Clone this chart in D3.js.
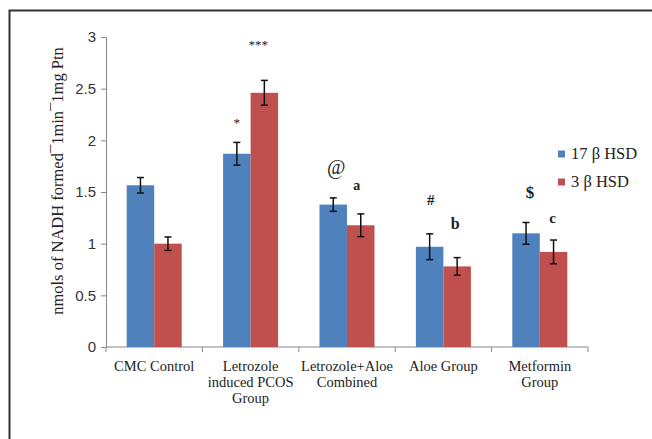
<!DOCTYPE html>
<html>
<head>
<meta charset="utf-8">
<script src="https://cdn.jsdelivr.net/npm/d3@7"></script>
<style>
  body { margin: 0; background: #fff; }
  svg { display: block; }
  .serif { font-family: "Liberation Serif", "Times New Roman", serif; }
  .sans { font-family: "Liberation Sans", Arial, sans-serif; }
</style>
</head>
<body>
<script>
// data
var groups = [["CMC Control"], ["Letrozole", "induced PCOS", "Group"], ["Letrozole+Aloe", "Combined"], ["Aloe Group"], ["Metformin", "Group"]];
var seriesNames = ["17 \u03b2 HSD", "3 \u03b2 HSD"];
var hsd17 = [1.565, 1.87, 1.378, 0.97, 1.10];
var hsd17Err = [0.075, 0.11, 0.065, 0.125, 0.105];
var hsd3 = [1.0, 2.46, 1.178, 0.78, 0.92];
var hsd3Err = [0.065, 0.12, 0.11, 0.085, 0.115];
var marks17 = ["", "*", "@", "#", "$"];
var marks3 = ["", "***", "a", "b", "c"];
var yTicks = [0, 0.5, 1, 1.5, 2, 2.5, 3];
var colors = ["#4f81bd", "#c0504d"];

var width = 652, height = 439;
var svg = d3.select("body").append("svg")
	.attr("width", width)
	.attr("height", height);

// outer frame (cut off at right and bottom)
svg.append("path")
	.attr("d", "M9.5," + height + "V10.5H" + width)
	.attr("fill", "none")
	.attr("stroke", "#333")
	.attr("stroke-width", 2);

var x = d3.scaleBand()
	.domain(d3.range(groups.length))
	.range([106, 588]);

var y = d3.scaleLinear()
	.domain([0, 3])
	.range([347, 37]);

var barW = 27.5;

// axes
var yAxis = svg.append("g")
	.attr("transform", "translate(106,0)")
	.call(d3.axisLeft(y).tickValues(yTicks).tickSize(5).tickPadding(5).tickFormat(d3.format("")));
yAxis.attr("font-family", null).attr("font-size", null);
yAxis.selectAll("text")
	.attr("class", "sans")
	.attr("font-size", 15)
	.attr("fill", "#333");
yAxis.selectAll("line, path").attr("stroke", "#888");

var xAxis = svg.append("g")
	.attr("transform", "translate(0,347)");
xAxis.append("line")
	.attr("x1", 106).attr("x2", 588)
	.attr("stroke", "#888");
xAxis.selectAll("line.tk")
	.data(d3.range(groups.length + 1))
	.enter().append("line")
	.attr("class", "tk")
	.attr("x1", function (d) { return 106 + d * x.bandwidth(); })
	.attr("x2", function (d) { return 106 + d * x.bandwidth(); })
	.attr("y2", 5)
	.attr("stroke", "#888");

// category labels
var cat = svg.append("g");
groups.forEach(function (lines, i) {
	var t = cat.append("text")
		.attr("class", "serif")
		.attr("x", x(i) + x.bandwidth() / 2)
		.attr("y", 371)
		.attr("text-anchor", "middle")
		.attr("font-size", 14.5)
		.attr("fill", "#222");
	lines.forEach(function (l, j) {
		t.append("tspan")
			.attr("x", x(i) + x.bandwidth() / 2)
			.attr("dy", j === 0 ? 0 : 16)
			.text(l);
	});
});

// bars
var series = [hsd17, hsd3];
var errs = [hsd17Err, hsd3Err];
series.forEach(function (vals, s) {
	var g = svg.append("g");
	g.selectAll("rect")
		.data(vals)
		.enter().append("rect")
		.attr("x", function (d, i) { return x(i) + x.bandwidth() / 2 - barW + s * barW; })
		.attr("y", function (d) { return y(d); })
		.attr("width", barW)
		.attr("height", function (d) { return y(0) - y(d); })
		.attr("fill", colors[s]);

	// error bars
	var e = svg.append("g").attr("stroke", "#111").attr("stroke-width", 1.5);
	vals.forEach(function (d, i) {
		var cx = x(i) + x.bandwidth() / 2 - barW / 2 + s * barW;
		var lo = y(d - errs[s][i]), hi = y(d + errs[s][i]);
		e.append("line").attr("x1", cx).attr("x2", cx).attr("y1", lo).attr("y2", hi);
		e.append("line").attr("x1", cx - 3.5).attr("x2", cx + 3.5).attr("y1", lo).attr("y2", lo);
		e.append("line").attr("x1", cx - 3.5).attr("x2", cx + 3.5).attr("y1", hi).attr("y2", hi);
	});
});

// significance marks
var markPos17 = [0, 122, 169, 200, 193];
var markPos3 = [0, 44, 185, 224, 218];
var markSize = { "*": 13, "***": 13, "@": 20, "#": 15, "$": 17, "a": 14, "b": 16, "c": 15 };
function drawMarks(marks, pos, s, dx) {
	marks.forEach(function (m, i) {
		if (!m) return;
		svg.append("text")
			.attr("class", "serif")
			.attr("x", x(i) + x.bandwidth() / 2 - barW / 2 + s * barW + dx[i])
			.attr("y", pos[i] + 5)
			.attr("text-anchor", "middle")
			.attr("font-weight", m === "@" || m.indexOf("*") === 0 ? "normal" : "bold")
			.attr("font-size", markSize[m])
			.attr("fill", "#222")
			.text(m);
	});
}
drawMarks(marks17, markPos17, 0, [0, 0, 3, 1, 4]);
drawMarks(marks3, markPos3, 1, [0, -6, -4, -2, -1]);

// y axis title
svg.append("text")
	.attr("class", "serif")
	.attr("transform", "translate(63,181) rotate(-90)")
	.attr("text-anchor", "middle")
	.attr("font-size", 16.5)
	.attr("fill", "#222")
	.text("nmols of NADH formed\u00af1min\u00af1mg Ptn");

// legend
var leg = svg.append("g");
seriesNames.forEach(function (n, i) {
	var ly = 154 + i * 28;
	leg.append("rect")
		.attr("x", 558).attr("y", ly - 3.5)
		.attr("width", 7).attr("height", 7)
		.attr("fill", colors[i]);
	leg.append("text")
		.attr("class", "serif")
		.attr("x", 571).attr("y", ly + 5)
		.attr("font-size", 16.5)
		.attr("fill", "#222")
		.text(n);
});
</script>
</body>
</html>
